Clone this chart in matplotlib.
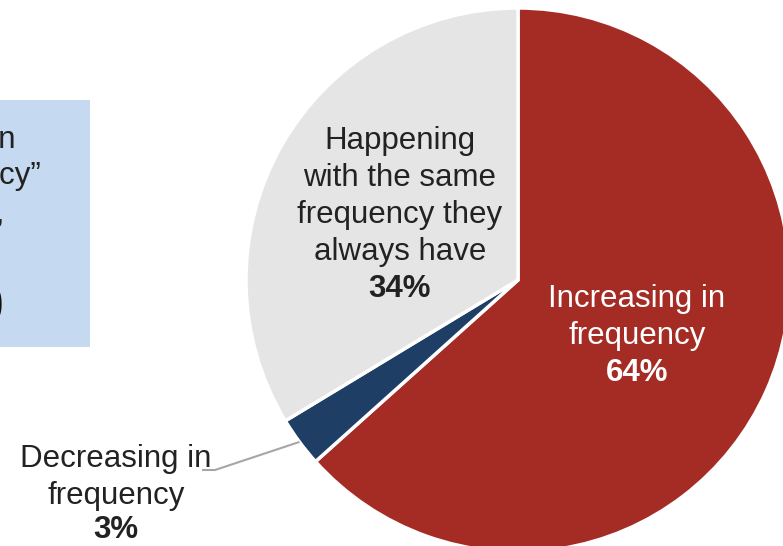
import numpy as np
import matplotlib.pyplot as plt
from matplotlib.patches import Rectangle

plt.rcParams['font.family'] = ['Liberation Sans', 'DejaVu Sans']

# survey shares, clockwise from 12 o'clock
labels = ["Increasing in\nfrequency", "Decreasing in\nfrequency",
          "Happening\nwith the same\nfrequency they\nalways have"]
shares = [64, 3, 34]
colors = ["#A52C25", "#1F3E66", "#E5E5E5"]

W, H = 783, 546
fig = plt.figure(figsize=(W / 100, H / 100), dpi=100)
ax = fig.add_axes([0, 0, 1, 1])

cx, cy, r = 518, H - 280, 272
wedges, _ = ax.pie(shares, colors=colors, startangle=90, counterclock=False,
                   center=(cx, cy), radius=r, frame=True,
                   wedgeprops=dict(edgecolor="white", linewidth=2.5))
ax.set_xlim(0, W)
ax.set_ylim(0, H)
ax.set_aspect("equal")
ax.axis("off")

fs = 22.5
step = 37


def block(x, y_top, text, pct, color, pct_step=step):
    # one text per line so the spacing is fixed in pixels
    lines = text.split("\n")
    for i, line in enumerate(lines):
        ax.text(x, H - (y_top + i * step), line, color=color, fontsize=fs,
                ha="center", va="center")
    ax.text(x, H - (y_top + (len(lines) - 1) * step + pct_step), f"{pct}%", color=color,
            fontsize=fs, fontweight="bold", ha="center", va="center")


block(637, 299, labels[0], shares[0], "white")
block(400, 141, labels[2], shares[2], "#222222")
block(116, 459, labels[1], shares[1], "#222222", pct_step=34)

# leader line for the small slice
w = wedges[1]
mid = np.deg2rad((w.theta1 + w.theta2) / 2)
x0, y0 = cx + r * np.cos(mid), cy + r * np.sin(mid)
ax.plot([x0, 215, 202], [y0, H - 470, H - 470], color="#A6A6A6", lw=1.5,
        solid_capstyle="butt", zorder=3)

# callout box on the left (runs off the edge)
ax.add_patch(Rectangle((-200, H - 347), 290, 247, facecolor="#C5D9F0",
                       edgecolor="none", zorder=0))
ax.text(15, H - 140, "increasing in", fontsize=fs, ha="right", va="center", color="#222222")
ax.text(41, H - 176, "frequency\u201d", fontsize=fs, ha="right", va="center", color="#222222")
ax.text(5, H - 214, "than,", fontsize=fs, ha="right", va="center", color="#222222")
ax.text(4, H - 310, "0", fontsize=40, fontweight="bold", ha="right", va="center",
        color="#111111")

fig.savefig("out.png", dpi=100)
